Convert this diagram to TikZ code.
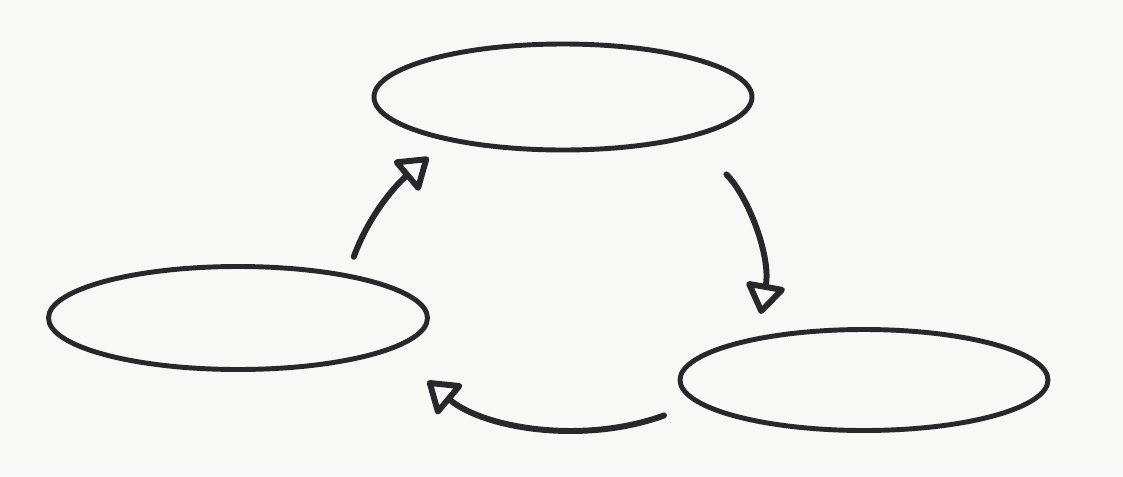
\documentclass[tikz,border=0pt]{standalone}
\usepackage{tikz}
\usetikzlibrary{arrows.meta, shapes.geometric}

\definecolor{ink}{RGB}{40,40,44}
\definecolor{paper}{RGB}{248,248,246}

\begin{document}
\begin{tikzpicture}[
    blob/.style={draw=ink, line width=2.8pt, ellipse, inner sep=0pt},
    cyc/.style={draw=ink, line width=3.4pt, line cap=round,
      -{Triangle[open, round, length=0.66cm, width=0.86cm]}}
  ]
  % Paper
  \fill[paper] (0,0) rectangle (22.46,-9.52);
  \useasboundingbox (0,0) rectangle (22.46,-9.52);
  % Ellipses
  \node[blob, minimum width=7.56cm, minimum height=2.12cm] (topel) at (11.26,-1.94) {};
  \node[blob, minimum width=7.58cm, minimum height=2.06cm] (leftel) at (4.76,-6.36) {};
  \node[blob, minimum width=7.36cm, minimum height=2.02cm] (rightel) at (17.28,-7.6) {};
  % Cycle arrows
  \draw[cyc, shorten <=0.36cm, shorten >=0.5cm] (leftel.22) to[out=70, in=220] (topel.201);
  \draw[cyc, shorten <=1.02cm, shorten >=0.46cm] (topel.342) to[out=-45, in=80] (rightel.158);
  \draw[cyc, shorten <=0.7cm, shorten >=0.95cm] (rightel.188) to[out=200, in=320] (leftel.348);
\end{tikzpicture}
\end{document}
